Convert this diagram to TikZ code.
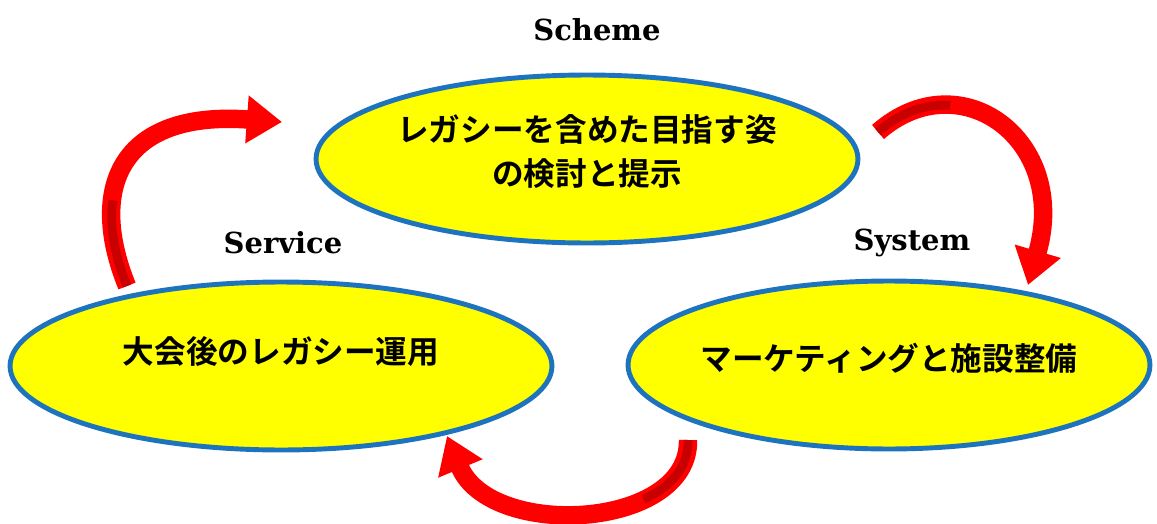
\documentclass[tikz,border=0pt]{standalone}
\usepackage{fontspec}
\newfontfamily\jp{Noto Sans CJK JP}[BoldFont={Noto Sans CJK JP Bold}]
\newfontfamily\lab{DejaVu Serif}
\usetikzlibrary{shapes.geometric,arrows.meta}
\definecolor{ybg}{HTML}{FFFF00}
\definecolor{bord}{HTML}{1E73BE}
\definecolor{ared}{HTML}{FF0000}
\definecolor{dred}{HTML}{C80000}
\begin{document}
\begin{tikzpicture}[x=0.02cm,y=-0.02cm,
 oval/.style={ellipse, draw=bord, line width=2.8pt, fill=ybg, inner sep=0pt, minimum width=10.84cm, minimum height=3.36cm},
 jptext/.style={font=\jp\bfseries\fontsize{18}{25}\selectfont, align=center, inner sep=0pt},
 lbl/.style={font=\lab\bfseries\fontsize{16.5}{20}\selectfont, inner sep=0pt},
 cyc/.style={draw=ared, line width=10.5pt, -{Triangle[width=26pt,length=20pt]}},
 darkband/.style={draw=dred, line width=5pt}]
\useasboundingbox (0,0) rectangle (1157,524);

% ellipses
\node[oval] (scheme) at (587,159) {};
\node[oval] (service) at (281,366) {};
\node[oval, minimum width=10.44cm] (system) at (889,365) {};

% texts
\node[jptext, yshift=4pt] (tscheme) at (scheme) {レガシーを含めた目指す姿\\の検討と提示};
\node[jptext, yshift=8pt] (tservice) at (service) {大会後のレガシー運用};
\node[jptext, yshift=4pt] (tsystem) at (system) {マーケティングと施設整備};

% labels
\node[lbl] (lscheme) at (597,30) {Scheme};
\node[lbl] (lservice) at (283,243) {Service};
\node[lbl] (lsystem) at (912,243) {System};

% arrow end points
\coordinate (a1s) at (127,286);
\coordinate (a1e) at (282,122);
\coordinate (a2s) at (878,132);
\coordinate (a2e) at (1028,285);
\coordinate (a3s) at (688,440);
\coordinate (a3e) at (447,436);

% cycle arrows
\draw[cyc] (a1s) .. controls (88,190) and (118,110) .. (a1e);
\draw[cyc] (a2s) .. controls (960,60) and (1070,140) .. (a2e);
\draw[cyc] (a3s) .. controls (690,530) and (490,540) .. (a3e);

% darker inner bands near the tails
\draw[darkband, dash pattern=on 50pt off 2000pt] (a1s) .. controls (88,190) and (118,110) .. (a1e);
\draw[darkband, dash pattern=on 45pt off 2000pt] (a2s) .. controls (960,60) and (1070,140) .. (a2e);
\draw[darkband, dash pattern=on 45pt off 2000pt] (a3s) .. controls (690,530) and (490,540) .. (a3e);
\end{tikzpicture}
\end{document}
